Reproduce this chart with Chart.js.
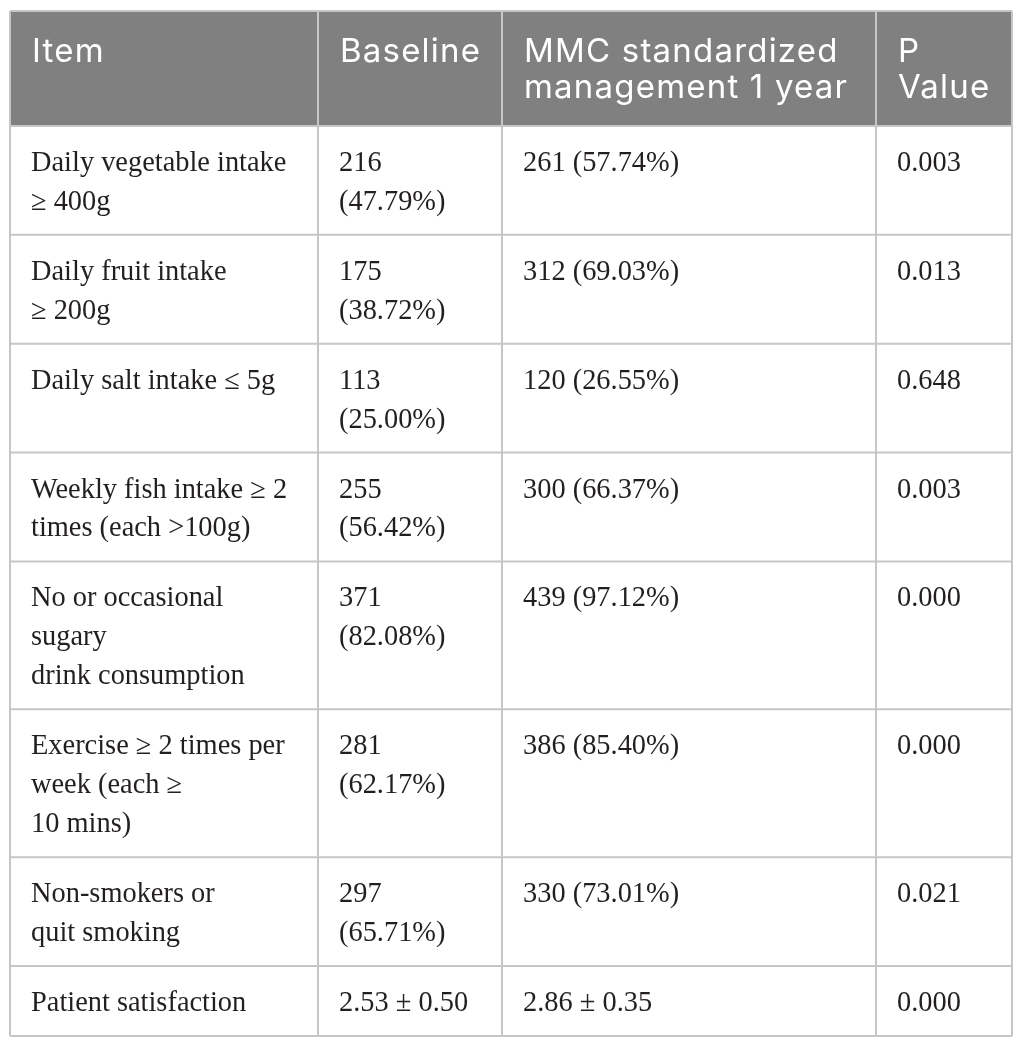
<!DOCTYPE html>
<html>
<head>
<meta charset="utf-8">
<script src="https://cdn.jsdelivr.net/npm/chart.js@4.4.1/dist/chart.umd.min.js"></script>
<style>
  html, body { margin: 0; padding: 0; background: #fff; }
  #wrap { width: 1025px; height: 1047px; position: relative; }
</style>
</head>
<body>
<div id="wrap"><canvas id="table-chart"></canvas></div>
<script>
const headers = ['Item', 'Baseline', 'MMC standardized management 1 year', 'P Value'];

const items = [
  'Daily vegetable intake\n≥ 400g',
  'Daily fruit intake\n≥ 200g',
  'Daily salt intake ≤ 5g',
  'Weekly fish intake ≥ 2\ntimes (each >100g)',
  'No or occasional\nsugary\ndrink consumption',
  'Exercise ≥ 2 times per\nweek (each ≥\n10 mins)',
  'Non-smokers or\nquit smoking',
  'Patient satisfaction'
];

const baselineCount = [216, 175, 113, 255, 371, 281, 297];
const baselinePct = [47.79, 38.72, 25.00, 56.42, 82.08, 62.17, 65.71];
const mmcCount = [261, 312, 120, 300, 439, 386, 330];
const mmcPct = [57.74, 69.03, 26.55, 66.37, 97.12, 85.40, 73.01];
const satisfactionMean = [2.53, 2.86];
const satisfactionSd = [0.50, 0.35];
const pValues = [0.003, 0.013, 0.648, 0.003, 0.000, 0.000, 0.021, 0.000];

// table layout (px units on the scales)
const colWidths = [308, 184, 374, 136];
const pad = 21;
const headFont = '400 33px Inter, Lato, sans-serif';
const headSpacing = '1.2px';
const bodyFont = '400 28.4px "Liberation Serif", "Times New Roman", serif';
const headLine = 36, bodyLine = 39;

// rows of text built from the arrays
const rows = items.map((item, i) => {
  if (i < baselineCount.length) {
    return [
      item,
      baselineCount[i] + ' (' + baselinePct[i].toFixed(2) + '%)',
      mmcCount[i] + ' (' + mmcPct[i].toFixed(2) + '%)',
      pValues[i].toFixed(3)
    ];
  }
  return [
    item,
    satisfactionMean[0].toFixed(2) + ' ± ' + satisfactionSd[0].toFixed(2),
    satisfactionMean[1].toFixed(2) + ' ± ' + satisfactionSd[1].toFixed(2),
    pValues[i].toFixed(3)
  ];
});

const measureCtx = document.createElement('canvas').getContext('2d');

function wrap(text, font, maxW, spacing) {
  measureCtx.font = font;
  measureCtx.letterSpacing = spacing || '0px';
  const out = [];
  text.split('\n').forEach(part => {
    let line = '';
    part.split(' ').forEach(word => {
      const test = line ? line + ' ' + word : word;
      if (line && measureCtx.measureText(test).width > maxW) {
        out.push(line);
        line = word;
      } else {
        line = test;
      }
    });
    out.push(line);
  });
  return out;
}

const headCells = headers.map((h, c) => wrap(h, headFont, colWidths[c] - 2 * pad + 8, headSpacing));
const bodyCells = rows.map(r => r.map((t, c) => wrap(t, bodyFont, colWidths[c] - 2 * pad + 6)));

const headHeight = Math.max(...headCells.map(l => l.length)) * headLine + 43;
const rowHeights = bodyCells.map(r => Math.max(...r.map(l => l.length)) * bodyLine + 31);
const totalHeight = headHeight + rowHeights.reduce((a, b) => a + b, 0);
const totalWidth = colWidths.reduce((a, b) => a + b, 0);

const tablePlugin = {
  id: 'tablePlugin',
  afterDraw(chart) {
    const ctx = chart.ctx;
    const xs = chart.scales.x, ys = chart.scales.y;
    const colEdges = [0];
    colWidths.forEach(w => colEdges.push(colEdges[colEdges.length - 1] + w));
    const rowEdges = [0, headHeight];
    rowHeights.forEach(h => rowEdges.push(rowEdges[rowEdges.length - 1] + h));
    const px = v => xs.getPixelForValue(v);
    const py = v => ys.getPixelForValue(v);

    ctx.save();
    // header background
    ctx.fillStyle = '#808080';
    ctx.fillRect(px(0), py(0), px(totalWidth) - px(0), py(headHeight) - py(0));

    // grid lines
    ctx.lineWidth = 2;
    ctx.strokeStyle = '#c6c6c6';
    rowEdges.forEach(r => {
      ctx.beginPath();
      ctx.moveTo(px(0), py(r));
      ctx.lineTo(px(totalWidth), py(r));
      ctx.stroke();
    });
    colEdges.forEach(c => {
      ctx.beginPath();
      ctx.moveTo(px(c), py(0));
      ctx.lineTo(px(c), py(totalHeight));
      ctx.stroke();
    });

    // header text
    ctx.textBaseline = 'alphabetic';
    ctx.textAlign = 'left';
    ctx.font = headFont;
    ctx.letterSpacing = headSpacing;
    ctx.fillStyle = '#ffffff';
    headCells.forEach((lines, c) => {
      lines.forEach((ln, k) => {
        ctx.fillText(ln, px(colEdges[c] + pad + 1), py(51 + k * headLine));
      });
    });

    // body text
    ctx.letterSpacing = '0px';
    ctx.font = bodyFont;
    ctx.fillStyle = '#231f20';
    bodyCells.forEach((cells, r) => {
      const top = rowEdges[r + 1];
      cells.forEach((lines, c) => {
        lines.forEach((ln, k) => {
          ctx.fillText(ln, px(colEdges[c] + pad), py(top + 45 + k * bodyLine));
        });
      });
    });
    ctx.restore();
  }
};

new Chart(document.getElementById('table-chart'), {
  type: 'scatter',
  data: { datasets: [] },
  options: {
    responsive: true,
    maintainAspectRatio: false,
    animation: false,
    events: [],
    layout: { padding: { left: 10, right: 13, top: 11, bottom: 11 } },
    plugins: { legend: { display: false }, tooltip: { enabled: false } },
    scales: {
      x: { type: 'linear', min: 0, max: totalWidth, display: false },
      y: { type: 'linear', min: 0, max: totalHeight, reverse: true, display: false }
    }
  },
  plugins: [tablePlugin]
});
</script>
</body>
</html>
